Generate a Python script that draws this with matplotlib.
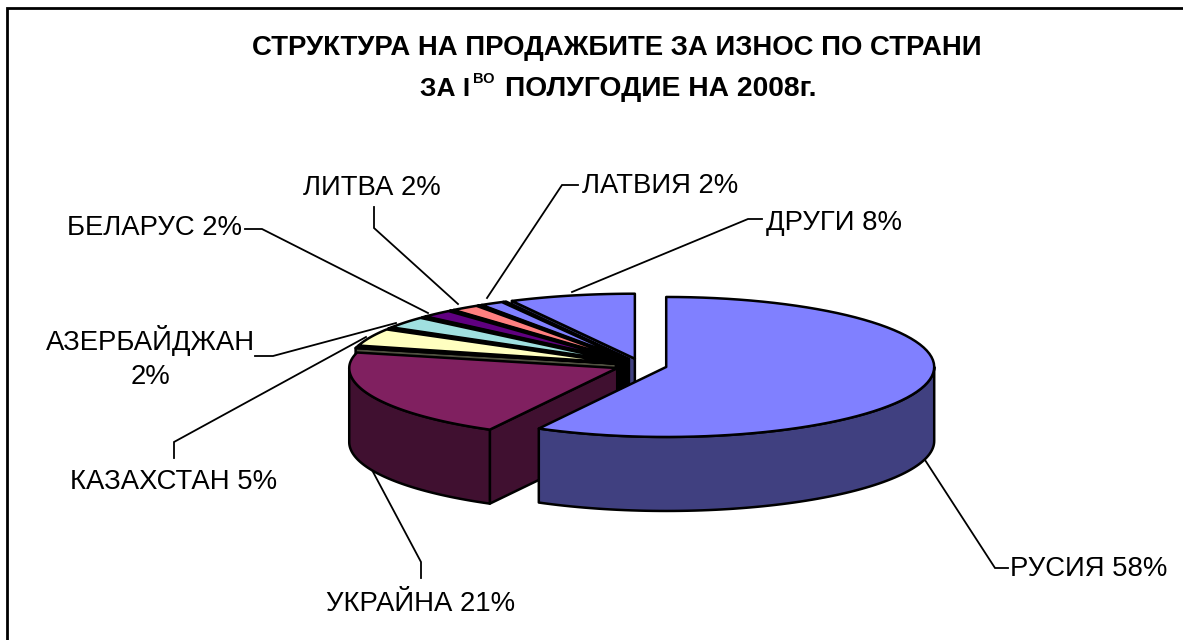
import numpy as np
import matplotlib
matplotlib.use("Agg")
import matplotlib.pyplot as plt
from matplotlib.patches import Polygon

plt.rcParams['font.family'] = ['Liberation Sans', 'DejaVu Sans']

# percent shares, clockwise from 12 o'clock; the empty names are the tiny unlabelled slices
names = ["РУСИЯ", "УКРАЙНА", "", "КАЗАХСТАН", "", "АЗЕРБАЙДЖАН", "", "БЕЛАРУС", "", "ЛИТВА", "", "ЛАТВИЯ", "", "ДРУГИ"]
shares = [58.0, 21.0, 0.4, 4.3, 0.2, 2.9, 0.2, 1.9, 0.2, 1.7, 0.2, 1.4, 0.2, 7.6]
colors = ["#8080FF", "#802060", "#A0A080", "#FFFFC0", "#202020", "#A0E0E0", "#202020", "#600080",
          "#202020", "#FF8080", "#202020", "#8080FF", "#202020", "#8080FF"]

label_texts = ["РУСИЯ 58%", "УКРАЙНА 21%", "КАЗАХСТАН 5%", "АЗЕРБАЙДЖАН\n2%", "БЕЛАРУС 2%", "ЛИТВА 2%", "ЛАТВИЯ 2%", "ДРУГИ 8%"]
label_pos = [(1089, 569), (421, 604), (174, 482), (151, 358), (155, 228), (372, 188), (660, 186), (834, 223)]
leaders = [
    [(925, 460), (995, 568), (1008, 568)],
    [(372, 470), (421, 562), (421, 578)],
    [(366, 337), (174, 442), (174, 458)],
    [(396, 323), (273, 356), (255, 356)],
    [(428, 313), (262, 229), (245, 229)],
    [(458, 304), (374, 228), (374, 207)],
    [(487, 298), (562, 185), (578, 185)],
    [(572, 292), (748, 219), (762, 219)],
]

# pie geometry in pixels
cx, cy = 641, 365.3
rx, ry = 268, 70
ry_back = 65  # the exploded back slices look flatter than the big front one
depth = 74
explode = 26
edge = 1.8


def darker(c):
    return tuple(v * 0.5 for v in matplotlib.colors.to_rgb(c))


fig = plt.figure(figsize=(11.83, 6.4), dpi=100)
ax = fig.add_axes([0, 0, 1, 1])
ax.set_xlim(0, 1183)
ax.set_ylim(640, 0)
ax.axis("off")

# only the top and left of the chart frame are inside the picture
ax.plot([7, 7, 1183], [640, 8, 8], color="black", lw=2, zorder=1, solid_joinstyle="miter")

angles = np.cumsum([0] + shares) / sum(shares) * 360
z = 2


def rim(apex, a, b, back, n=80):
    t = np.radians(np.linspace(a, b, n))
    c = np.cos(t)
    return np.column_stack([apex[0] + rx * np.sin(t), apex[1] - np.where(c > 0, back, ry) * c])


# back slices first, RUSSIA in front of everything
order = list(range(len(shares) - 1, 0, -1)) + [0]
for i in order:
    a, b = angles[i], angles[i + 1]
    mid = np.radians((a + b) / 2)
    apex = (cx + explode * np.sin(mid), cy - explode * ry / rx * np.cos(mid))
    back = ry if i == 0 else ry_back
    top = rim(apex, a, b, back)
    side = darker(colors[i])

    # cut face at the start of the slice
    if np.sin(np.radians(a)) < 0:
        p = rim(apex, a, a, back, 1)[0]
        face = [apex, p, (p[0], p[1] + depth), (apex[0], apex[1] + depth)]
        ax.add_patch(Polygon(face, fc=side, ec="black", lw=edge, zorder=z, joinstyle="round"))
        z += 1

    # outer wall on the front half of the ellipse
    lo, hi = max(a, 90), min(b, 270)
    if lo < hi:
        w = rim(apex, lo, hi, back)
        wall = np.vstack([w, (w + [0, depth])[::-1]])
        ax.add_patch(Polygon(wall, fc=side, ec="black", lw=edge, zorder=z, joinstyle="round"))
        z += 1

    ax.add_patch(Polygon(np.vstack([[apex], top]), fc=colors[i], ec="black", lw=edge, zorder=z, joinstyle="round"))
    z += 1

for pts in leaders:
    xs, ys = zip(*pts)
    ax.plot(xs, ys, color="black", lw=1.3, zorder=1, solid_joinstyle="miter")

for txt, (x, y) in zip(label_texts, label_pos):
    ax.text(x, y, txt, ha="center", va="center", fontsize=19.8, color="black", linespacing=1.4)

ax.text(617, 48, "СТРУКТУРА НА ПРОДАЖБИТЕ ЗА ИЗНОС ПО СТРАНИ", ha="center", va="center",
        fontsize=19.8, fontweight="bold")
ax.text(420, 89, "ЗА I", ha="left", va="center", fontsize=19, fontweight="bold")
ax.text(473, 79, "ВО", ha="left", va="center", fontsize=10.5, fontweight="bold")
ax.text(505, 89, "ПОЛУГОДИЕ НА 2008г.", ha="left", va="center", fontsize=20.3, fontweight="bold")

fig.savefig("out.png", dpi=100)
